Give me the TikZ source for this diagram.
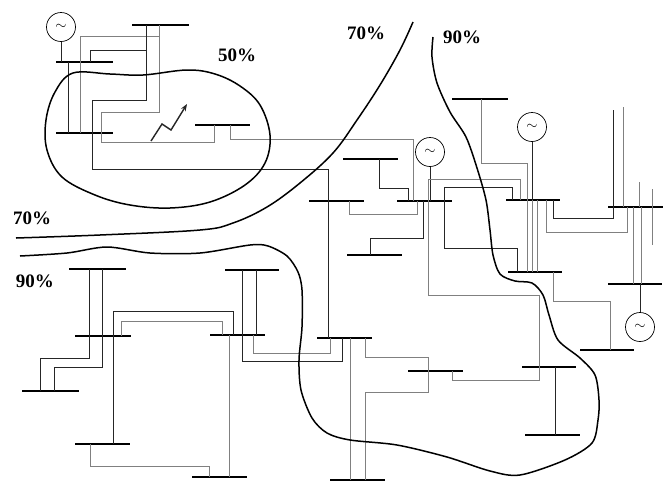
\documentclass[tikz,border=0pt]{standalone}
\usepackage{fontspec}
\setmainfont{Liberation Serif}
\usepackage{tikz}
\usetikzlibrary{arrows.meta}
\tikzset{>={Stealth[length=2.5mm]}}

\begin{document}
\begin{tikzpicture}[x=1pt, y=-1pt,
  bus/.style={fill=black, inner sep=0pt, minimum height=2.6pt},
  gen/.style={draw, circle, inner sep=0pt, minimum size=29pt, line width=0.7pt, font=\Large},
  ln/.style={black!85, line width=0.8pt},
  gl/.style={black!50, line width=0.8pt},
  zone/.style={line width=1.5pt},
  pct/.style={font=\fontsize{19}{19}\selectfont\bfseries}]
  \useasboundingbox (0,0) rectangle (663,483);

  % Buses
  \node[bus, minimum width=57] (bA) at (84.5,62) {};
  \node[bus, minimum width=57] (bB) at (160.5,25) {};
  \node[bus, minimum width=57] (bC) at (84.5,133) {};
  \node[bus, minimum width=55] (bD) at (222.5,125) {};
  \node[bus, minimum width=55] (bE) at (370.5,159) {};
  \node[bus, minimum width=55] (bG) at (336.5,201) {};
  \node[bus, minimum width=55] (bF) at (424.5,201) {};
  \node[bus, minimum width=56] (bH) at (480,99) {};
  \node[bus, minimum width=54] (bI) at (533,200) {};
  \node[bus, minimum width=55] (bJ) at (374.5,255) {};
  \node[bus, minimum width=54] (bK) at (535,272) {};
  \node[bus, minimum width=55] (bN) at (635.5,207) {};
  \node[bus, minimum width=54] (bO) at (635,284) {};
  \node[bus, minimum width=54] (bP) at (607,350) {};
  \node[bus, minimum width=54] (bL) at (549,367) {};
  \node[bus, minimum width=55] (bQ) at (552.5,435) {};
  \node[bus, minimum width=55] (bR) at (435.5,371) {};
  \node[bus, minimum width=55] (bM) at (344.5,338) {};
  \node[bus, minimum width=55] (bS) at (357.5,480) {};
  \node[bus, minimum width=55] (bT) at (237.5,335) {};
  \node[bus, minimum width=54] (bU) at (252,270) {};
  \node[bus, minimum width=56] (bV) at (103,336) {};
  \node[bus, minimum width=57] (bW) at (97.5,269) {};
  \node[bus, minimum width=57] (bX) at (50.5,391) {};
  \node[bus, minimum width=55] (bY) at (102.5,444) {};
  \node[bus, minimum width=55] (bZ) at (219.5,477) {};

  % Generators
  \node[gen] (g1) at (61,27) {$\sim$};
  \node[gen] (g2) at (430,152) {$\sim$};
  \node[gen] (g3) at (532,127) {$\sim$};
  \node[gen] (g4) at (640,327) {$\sim$};
  \draw[ln] (g1) -- (g1 |- bA);
  \draw[ln] (g2) -- (g2 |- bF);
  \draw[ln] (g3) -- (g3 |- bI);
  \draw[ln] (g4) -- (g4 |- bO);

  % Lines, upper left
  \draw[ln] (68,0 |- bA) -- (68,0 |- bC);
  \draw[gl] (80,0 |- bC) |- (159,36);
  \draw[ln] (90,0 |- bA) |- (146,50);
  \draw[ln] (146,0 |- bB) |- (92,100) |- (328,169) -- (328,0 |- bM);
  \draw[gl] (159,0 |- bB) |- (101,112) |- (214,142) -- (214,0 |- bD);
  \draw[gl] (230,0 |- bD) |- (413,139) -- (413,0 |- bF);

  % fault
  \draw[ln, line width=1.4pt, ->] (151,141) -- (162,124) -- (171,130) -- (187,104);

  % Lines, middle
  \draw[ln] (379,0 |- bE) |- (408,188) -- (408,0 |- bF);
  \draw[gl] (349,0 |- bG) |- (417,214) -- (417,0 |- bF);
  \draw[ln] (423,0 |- bF) |- (370,238) -- (370,0 |- bJ);
  \draw[gl] (520,0 |- bI) |- (428,179) |- (539,295) -- (539,0 |- bL);
  \draw[ln] (512,0 |- bI) |- (444,187) |- (517,248) -- (517,0 |- bK);
  \draw[gl] (481,0 |- bH) |- (527,163) -- (527,0 |- bK);
  \draw[gl] (532,0 |- bI) -- (532,0 |- bK);
  \draw[gl] (537,0 |- bI) -- (537,0 |- bK);

  % Lines, right
  \draw[ln, line width=1pt] (553,0 |- bI) |- (613,218) -- (613,110);
  \draw[gl] (546,0 |- bI) |- (627,232) -- (627,0 |- bN);
  \draw[gl] (623,0 |- bN) -- (623,107);
  \draw[gl] (639,182) -- (639,0 |- bN);
  \draw[gl] (652,189) -- (652,245);
  \draw[gl] (633,0 |- bN) -- (633,0 |- bO);
  \draw[gl] (641,0 |- bN) -- (641,0 |- bO);
  \draw[gl] (553,0 |- bK) |- (610,301) -- (610,0 |- bP);
  \draw[ln] (555,0 |- bL) -- (555,0 |- bQ);
  \draw[gl] (452,0 |- bR) |- (539,380) -- (539,0 |- bL);

  % Lines, lower middle
  \draw[gl] (365,0 |- bM) |- (428,357) -- (428,0 |- bR);
  \draw[gl] (428,0 |- bR) |- (365,392) -- (365,0 |- bS);
  \draw[gl] (350,0 |- bM) -- (350,0 |- bS);
  \draw[ln] (242,0 |- bU) |- (342,361) -- (342,0 |- bM);
  \draw[ln] (256,0 |- bU) -- (256,0 |- bT);
  \draw[gl] (253,0 |- bT) |- (330,353) -- (330,0 |- bM);

  % Lines, lower left
  \draw[ln] (113,0 |- bY) |- (233,311) -- (233,0 |- bT);
  \draw[gl] (121,0 |- bV) |- (222,321) -- (222,0 |- bT);
  \draw[gl] (229,0 |- bT) -- (229,0 |- bZ);
  \draw[gl] (90,0 |- bY) |- (209,466) -- (209,0 |- bZ);
  \draw[ln] (89,0 |- bW) |- (40,358) -- (40,0 |- bX);
  \draw[ln] (102,0 |- bW) |- (54,367) -- (54,0 |- bX);

  % Contours
  \draw[zone] plot[smooth cycle, tension=0.6] coordinates {(73,73) (110,74) (143,75) (187,70)
    (215,74) (240,86) (260,105) (270,135) (265,163) (245,185) (210,202) (170,208)
    (130,205) (95,195) (62,177) (47,150) (46,120) (55,92)};
  \draw[zone] plot[smooth, tension=0.6] coordinates {(16,238) (100,235) (200,230) (233,223)
    (267,207) (300,183) (333,153) (357,120) (380,85) (400,50) (413,22)};
  \draw[zone] plot[smooth, tension=0.5] coordinates {(433,37) (432,57) (437,83) (450,112)
    (466,137) (477,168) (486,200) (490,230) (493,255) (500,274) (515,281) (532,283)
    (543,295) (549,315) (558,340) (580,358) (595,375) (599,400) (598,420) (592,443)
    (565,460) (520,475) (490,471) (447,457) (397,445) (350,440) (327,433) (312,418)
    (301,390) (299,360) (302,327) (302,290) (298,272) (287,256) (268,246) (250,245)
    (200,253) (150,253) (107,247) (67,253) (20,256)};

  % Labels
  \node[pct] (p50) at (237,55) {50\%};
  \node[pct] (p70a) at (32,218) {70\%};
  \node[pct] (p70b) at (366,33) {70\%};
  \node[pct] (p90a) at (462,37) {90\%};
  \node[pct] (p90b) at (35,281) {90\%};
\end{tikzpicture}
\end{document}
